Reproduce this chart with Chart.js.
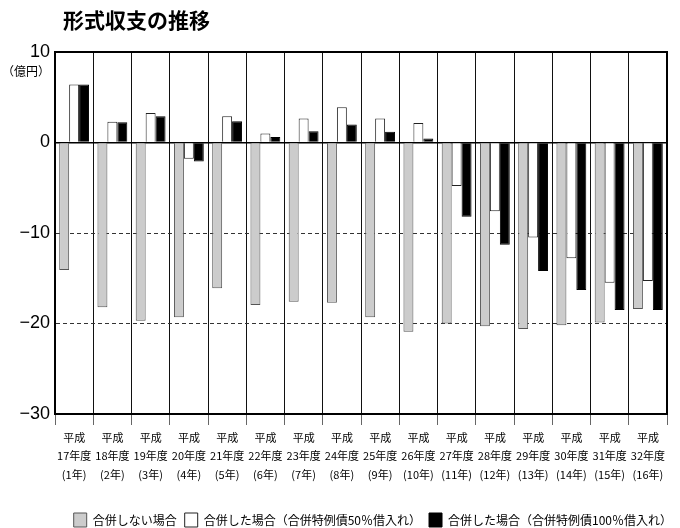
<!DOCTYPE html>
<html lang="ja">
  <head>
    <meta charset="UTF-8" />
    <meta name="viewport" content="width=device-width, initial-scale=1.0" />
    <title>形式収支の推移</title>
    <script src="https://cdn.jsdelivr.net/npm/chart.js"></script>
    <style>
      body { margin: 0; background: #fff; }
      #wrap { width: 680px; height: 528px; position: relative; }
    </style>
  </head>
  <body>
    <div id="wrap"><canvas id="chart"></canvas></div>

    <script>
      const chartTitle = "形式収支の推移";
      const unitLabel = "（億円）";

      // x軸ラベル（3行）
      const eraLabel = "平成";
      const fiscalYears = ["17年度", "18年度", "19年度", "20年度", "21年度", "22年度", "23年度", "24年度",
        "25年度", "26年度", "27年度", "28年度", "29年度", "30年度", "31年度", "32年度"];
      const mergeYears = ["(1年)", "(2年)", "(3年)", "(4年)", "(5年)", "(6年)", "(7年)", "(8年)",
        "(9年)", "(10年)", "(11年)", "(12年)", "(13年)", "(14年)", "(15年)", "(16年)"];

      // 単位：億円
      const noMerge = [-14.1, -18.2, -19.7, -19.3, -16.1, -17.95, -17.6, -17.7,
        -19.3, -20.9, -20.0, -20.3, -20.6, -20.2, -19.9, -18.4];
      const merge50 = [6.4, 2.3, 3.25, -1.8, 2.9, 1.0, 2.65, 3.9,
        2.65, 2.15, -4.8, -7.6, -10.5, -12.8, -15.5, -15.3];
      const merge100 = [6.4, 2.25, 2.9, -2.1, 2.35, 0.6, 1.25, 2.0,
        1.2, 0.45, -8.2, -11.3, -14.2, -16.3, -18.5, -18.5];

      const seriesNames = ["合併しない場合", "合併した場合（合併特例債50％借入れ）", "合併した場合（合併特例債100％借入れ）"];

      const yMin = -30, yMax = 10, yStep = 10;

      const jp = '"Noto Sans CJK JP", sans-serif';
      const labels = fiscalYears.map((fy, i) => [eraLabel, fy, mergeYears[i]]);

      const titlePlugin = {
        id: "titles",
        afterDraw(chart) {
          const c = chart.ctx;
          c.save();
          c.fillStyle = "#000";
          c.textBaseline = "middle";
          c.textAlign = "left";
          c.font = "bold 21px " + jp;
          c.fillText(chartTitle, 63, 20);
          c.font = "12px " + jp;
          c.fillText(unitLabel, 2, 71);
          c.restore();
        },
      };

      const tickVal = (c) => (c.tick ? c.tick.value : null);

      const ctx = document.getElementById("chart").getContext("2d");
      new Chart(ctx, {
        type: "bar",
        data: {
          labels: labels,
          datasets: [
            { label: seriesNames[0], data: noMerge, backgroundColor: "#cccccc", borderColor: "#555", borderWidth: 1 },
            { label: seriesNames[1], data: merge50, backgroundColor: "#ffffff", borderColor: "#222", borderWidth: 1 },
            { label: seriesNames[2], data: merge100, backgroundColor: "#000000", borderColor: "#000", borderWidth: 1 },
          ],
        },
        options: {
          responsive: true,
          maintainAspectRatio: false,
          animation: false,
          layout: { padding: { top: 52, left: 0, right: 0, bottom: -9 } },
          datasets: { bar: { categoryPercentage: 0.78, barPercentage: 1 } },
          plugins: {
            legend: {
              position: "bottom",
              align: "end",
              labels: { boxWidth: 13, boxHeight: 14, padding: 8, color: "#000", font: { family: jp, size: 12 } },
            },
            tooltip: { enabled: false },
          },
          scales: {
            x: {
              grid: { offset: true, color: "#111", lineWidth: 1, tickLength: 11, tickColor: "#666" },
              border: { color: "#000", width: 2 },
              ticks: {
                color: "#000",
                padding: 3,
                maxRotation: 0,
                autoSkip: false,
                font: { family: jp, size: 11, lineHeight: 1.7 },
              },
              afterFit: (s) => { s.height = 91; },
            },
            y: {
              min: yMin,
              max: yMax,
              ticks: {
                stepSize: yStep,
                color: "#000",
                padding: 5,
                font: { family: '"Liberation Sans", sans-serif', size: 18 },
                callback: (v) => (v < 0 ? "\u2212" + Math.abs(v) : v),
              },
              grid: {
                drawTicks: false,
                color: (c) => (tickVal(c) === 0 || tickVal(c) === 10 ? "#000" : "#333"),
                lineWidth: (c) => {
                  const v = tickVal(c);
                  if (v === 10) return 2;
                  if (v === 0) return 1.5;
                  if (v === -30) return 0;
                  return 1;
                },
              },
              border: {
                color: "#000",
                width: 2,
                dash: (c) => (tickVal(c) === -10 || tickVal(c) === -20 ? [4, 3] : []),
              },
              afterFit: (s) => { s.width = 55; },
            },
            y2: {
              position: "right",
              min: yMin,
              max: yMax,
              ticks: { display: false },
              grid: { display: false },
              border: { color: "#000", width: 2 },
              afterFit: (s) => { s.width = 13; },
            },
          },
        },
        plugins: [titlePlugin],
      });
    </script>
  </body>
</html>
